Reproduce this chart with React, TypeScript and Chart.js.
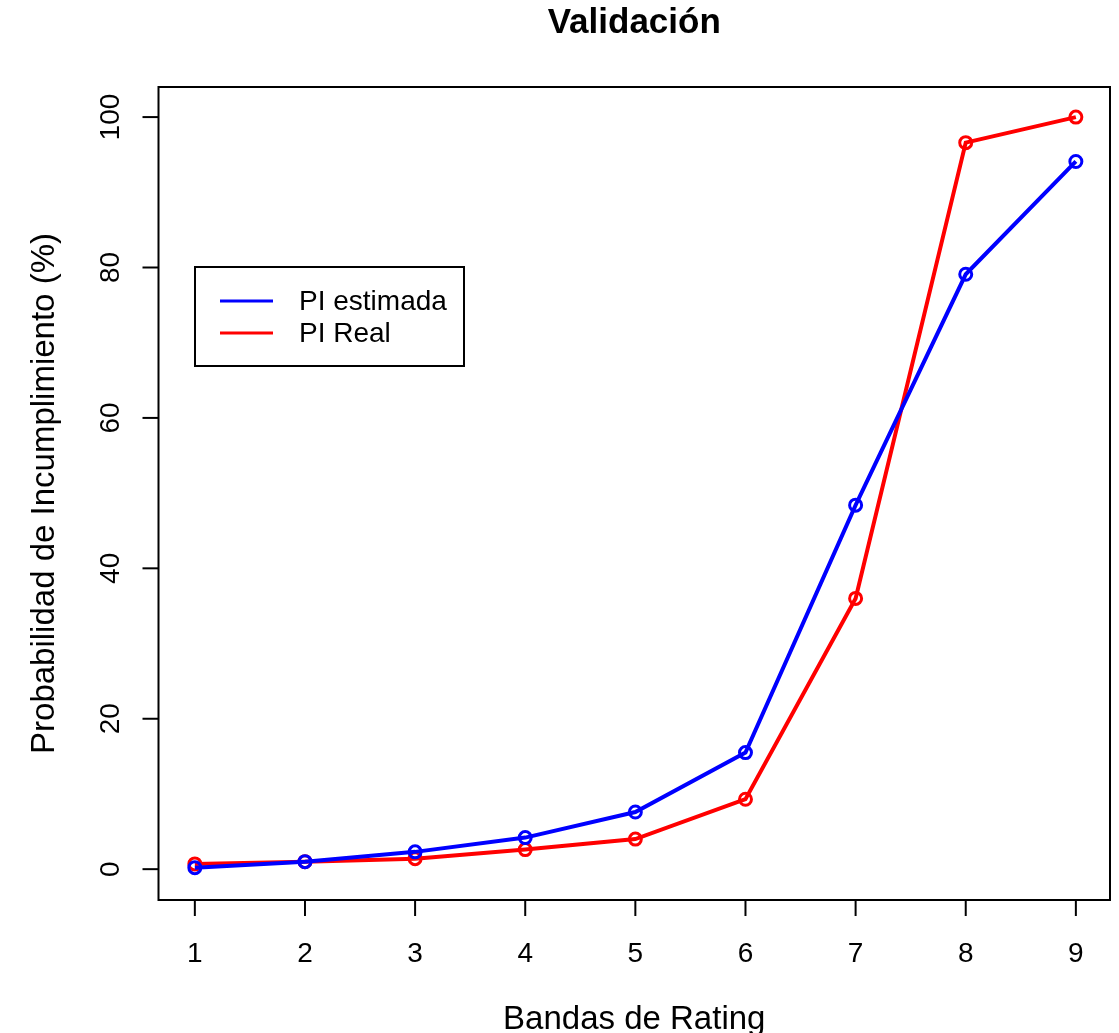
import React, { useEffect, useRef } from "react";
import { Chart, registerables } from "chart.js";

Chart.register(...registerables);

const categories = [1, 2, 3, 4, 5, 6, 7, 8, 9];
const piEstimada = [0.2, 1.0, 2.3, 4.2, 7.6, 15.5, 48.4, 79.1, 94.1];
const piReal = [0.7, 1.0, 1.4, 2.6, 4.0, 9.3, 36.0, 96.6, 100.0];
const yTicks = [0, 20, 40, 60, 80, 100];
const xTicks = categories;
const seriesNames = ["PI estimada", "PI Real"];
const seriesColors = ["#0000FF", "#FF0000"];

const titleText = "Validación";
const xTitle = "Bandas de Rating";
const yTitle = "Probabilidad de Incumplimiento (%)";

const FONT = '"Liberation Sans", Arial, Helvetica, sans-serif';

const decorPlugin = {
  id: "rDecor",
  afterDraw(chart: any) {
    const ctx = chart.ctx as CanvasRenderingContext2D;
    const { left, right, top, bottom } = chart.chartArea;
    const xs = chart.scales.x;
    const ys = chart.scales.y;
    ctx.save();
    ctx.strokeStyle = "#000";
    ctx.fillStyle = "#000";
    ctx.lineWidth = 2;
    // box
    ctx.strokeRect(left, top, right - left, bottom - top);
    // x ticks
    ctx.font = `28px ${FONT}`;
    ctx.textAlign = "center";
    ctx.textBaseline = "alphabetic";
    xTicks.forEach((v) => {
      const px = xs.getPixelForValue(v);
      ctx.beginPath();
      ctx.moveTo(px, bottom);
      ctx.lineTo(px, bottom + 16);
      ctx.stroke();
      ctx.fillText(String(v), px, 962);
    });
    // y ticks
    yTicks.forEach((v) => {
      const py = ys.getPixelForValue(v);
      ctx.beginPath();
      ctx.moveTo(left - 16, py);
      ctx.lineTo(left, py);
      ctx.stroke();
      ctx.save();
      ctx.translate(119, py);
      ctx.rotate(-Math.PI / 2);
      ctx.fillText(String(v), 0, 0);
      ctx.restore();
    });
    // title
    const cx = (left + right) / 2;
    ctx.font = `bold 35px ${FONT}`;
    ctx.fillText(titleText, cx, 33);
    // axis titles
    ctx.font = `33px ${FONT}`;
    ctx.fillText(xTitle, cx, 1029);
    ctx.save();
    ctx.translate(54, (top + bottom) / 2);
    ctx.rotate(-Math.PI / 2);
    ctx.fillText(yTitle, 0, 0);
    ctx.restore();
    // legend
    ctx.lineWidth = 2;
    ctx.strokeRect(195, 267, 269, 99);
    ctx.font = `28px ${FONT}`;
    ctx.textAlign = "left";
    ctx.textBaseline = "middle";
    const rows = [301, 333];
    seriesNames.forEach((name, i) => {
      ctx.strokeStyle = seriesColors[i];
      ctx.lineWidth = 3;
      ctx.beginPath();
      ctx.moveTo(220, rows[i]);
      ctx.lineTo(273, rows[i]);
      ctx.stroke();
      ctx.fillStyle = "#000";
      ctx.fillText(name, 299, rows[i] + 1);
    });
    ctx.restore();
  },
};

export default function App() {
  const ref = useRef<HTMLCanvasElement>(null);
  useEffect(() => {
    if (!ref.current) return;
    const mk = (vals: number[]) => categories.map((c, i) => ({ x: c, y: vals[i] }));
    const ds = (i: number, vals: number[]) => ({
      label: seriesNames[i],
      data: mk(vals),
      borderColor: seriesColors[i],
      backgroundColor: "rgba(0,0,0,0)",
      borderWidth: 4,
      pointRadius: 6,
      pointBorderWidth: 3,
      pointBorderColor: seriesColors[i],
      pointBackgroundColor: "rgba(0,0,0,0)",
      tension: 0,
    });
    const chart = new Chart(ref.current, {
      type: "line",
      data: {
        datasets: [ds(0, piEstimada), ds(1, piReal)],
      },
      options: {
        responsive: false,
        maintainAspectRatio: false,
        animation: false,
        devicePixelRatio: 1,
        layout: { padding: { left: 158.5, right: 5.3, top: 87, bottom: 133 } },
        scales: {
          x: { type: "linear", min: 0.67, max: 9.31, display: false },
          y: { type: "linear", min: -4.1, max: 104, display: false },
        },
        plugins: {
          legend: { display: false },
          title: { display: false },
          tooltip: { enabled: false },
        },
      },
      plugins: [decorPlugin],
    });
    return () => chart.destroy();
  }, []);
  return (
    <div style={{ position: "absolute", left: 0, top: 0, width: 1119, height: 1033, background: "#fff" }}>
      <canvas ref={ref} width={1119} height={1033} style={{ width: 1119, height: 1033 }} />
    </div>
  );
}
